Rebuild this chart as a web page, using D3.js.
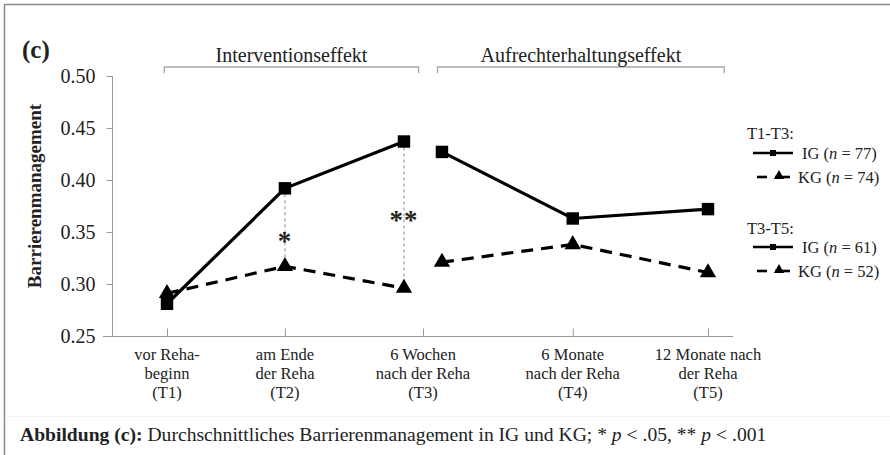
<!DOCTYPE html>
<html>
<head>
<meta charset="utf-8">
<script src="https://cdn.jsdelivr.net/npm/d3@7"></script>
<style>
  html, body { margin: 0; padding: 0; background: #fff; }
  svg { display: block; }
  text { font-family: "Liberation Serif", "Times New Roman", serif; fill: #222; }
</style>
</head>
<body>
<svg id="chart" width="890" height="455"></svg>
<script>
// Messzeitpunkte (Achsenbeschriftung, mehrzeilig) und ihre Lage auf der Zeitachse
const zeitpunktLabels = [
  ["vor Reha-", "beginn", "(T1)"],
  ["am Ende", "der Reha", "(T2)"],
  ["6 Wochen", "nach der Reha", "(T3)"],
  ["6 Monate", "nach der Reha", "(T4)"],
  ["12 Monate nach", "der Reha", "(T5)"]
];
const zeitpunktPos = [0, 0.872, 1.893, 3.0, 4.0];

// Phase 1 (T1-T3) und Phase 2 (T3-T5): Lage der Messpunkte auf der Zeitachse
const posPhase1 = [0, 0.872, 1.752];
const posPhase2 = [2.033, 3.0, 4.0];

// Mittelwerte Barrierenmanagement
const igPhase1 = [0.281, 0.392, 0.437];
const kgPhase1 = [0.291, 0.317, 0.296];
const igPhase2 = [0.427, 0.363, 0.372];
const kgPhase2 = [0.321, 0.338, 0.311];

// y-Achse
const yTicks = [0.25, 0.30, 0.35, 0.40, 0.45, 0.50];

// Signifikanzmarkierungen (Index in Phase 1, Höhe des Sternchens auf der y-Skala)
const signifikanz = [
  { idx: 1, label: "*", hoehe: 0.345 },
  { idx: 2, label: "**", hoehe: 0.365 }
];

// Legende
const legendeGruppen = [
  { titel: "T1-T3:", eintraege: [{ g: "IG", n: 77, typ: "ig" }, { g: "KG", n: 74, typ: "kg" }] },
  { titel: "T3-T5:", eintraege: [{ g: "IG", n: 61, typ: "ig" }, { g: "KG", n: 52, typ: "kg" }] }
];

// Effektklammern über dem Diagramm
const klammern = [
  { label: "Interventionseffekt", von: -0.02, bis: 1.86 },
  { label: "Aufrechterhaltungseffekt", von: 2.0, bis: 4.12 }
];

const svg = d3.select("#chart");

// Rahmen
svg.append("line").attr("x1", 4).attr("x2", 890).attr("y1", 4.5).attr("y2", 4.5)
  .attr("stroke", "#8a8a8a").attr("stroke-width", 1.5);
svg.append("line").attr("x1", 4.5).attr("x2", 4.5).attr("y1", 4).attr("y2", 455)
  .attr("stroke", "#8a8a8a").attr("stroke-width", 1.5);
svg.append("line").attr("x1", 5).attr("x2", 890).attr("y1", 416.5).attr("y2", 416.5)
  .attr("stroke", "#f3f3f3").attr("stroke-width", 1);

const x = d3.scaleLinear().domain([0, 4]).range([167, 708]);
const y = d3.scaleLinear().domain([0.25, 0.50]).range([336, 76]);

// y-Achse
const yAxis = svg.append("g").attr("transform", "translate(112.5,0)")
  .call(d3.axisLeft(y).tickValues(yTicks).tickFormat(d3.format(".2f")).tickSize(6).tickPadding(11));
yAxis.select(".domain").attr("stroke", "#9a9a9a").attr("d", `M0,${y(0.50)}V${y(0.25)}`);
yAxis.selectAll(".tick line").attr("stroke", "#9a9a9a");
yAxis.selectAll(".tick text").attr("font-size", 20).attr("fill", "#333")
  .style("font-family", '"Liberation Serif", serif');

// x-Achse (Ticks nach innen)
const xAxis = svg.append("g").attr("transform", `translate(0,${y(0.25) + 0.5})`)
  .call(d3.axisBottom(x).tickValues(zeitpunktPos).tickSize(-8).tickFormat(""));
xAxis.select(".domain").attr("stroke", "#9a9a9a").attr("d", "M103,0H733");
xAxis.selectAll(".tick line").attr("stroke", "#9a9a9a");

// mehrzeilige Kategorienbeschriftung
const xl = svg.append("g");
zeitpunktLabels.forEach((lines, i) => {
  const t = xl.append("text").attr("text-anchor", "middle").attr("font-size", 16.5).attr("fill", "#333");
  lines.forEach((s, j) => {
    t.append("tspan").attr("x", x(zeitpunktPos[i])).attr("y", 360 + j * 19).text(s);
  });
});

// Achsentitel
svg.append("text")
  .attr("transform", `translate(41,${196})rotate(-90)`)
  .attr("text-anchor", "middle").attr("font-size", 19).attr("font-weight", "bold").attr("fill", "#222")
  .text("Barrierenmanagement");

// Teilabbildungskennung
svg.append("text").attr("x", 22).attr("y", 58).attr("font-size", 25).attr("font-weight", "bold")
  .attr("fill", "#111").text("(c)");

// Klammern mit Beschriftung
klammern.forEach(k => {
  const x0 = x(k.von), x1 = x(k.bis);
  svg.append("path")
    .attr("d", `M${x0},73V67H${x1}V73`)
    .attr("fill", "none").attr("stroke", "#a8a8a8").attr("stroke-width", 1.3);
  svg.append("text").attr("x", (x0 + x1) / 2).attr("y", 61.5).attr("text-anchor", "middle")
    .attr("font-size", 20).attr("fill", "#222").text(k.label);
});

// Signifikanz: gepunktete Verbindungslinien und Sternchen
signifikanz.forEach(s => {
  const xp = x(posPhase1[s.idx]);
  const y0 = y(igPhase1[s.idx]), y1 = y(kgPhase1[s.idx]);
  svg.append("line").attr("x1", xp).attr("x2", xp).attr("y1", y0).attr("y2", y1)
    .attr("stroke", "#b4b4b4").attr("stroke-width", 1.6).attr("stroke-dasharray", "3,3");
  svg.append("text").attr("x", xp).attr("y", y(s.hoehe) + 13).attr("text-anchor", "middle")
    .attr("font-size", 27).attr("font-weight", "bold").attr("fill", "#7a7a7a")
    .attr("letter-spacing", 1).text(s.label);
});

// Linien und Marker
const line = d3.line().x(d => x(d[0])).y(d => y(d[1]));
const reihen = [
  { pos: posPhase1, werte: kgPhase1, typ: "kg" },
  { pos: posPhase2, werte: kgPhase2, typ: "kg" },
  { pos: posPhase1, werte: igPhase1, typ: "ig" },
  { pos: posPhase2, werte: igPhase2, typ: "ig" }
];
const sym = {
  ig: d3.symbol().type(d3.symbolSquare).size(155),
  kg: d3.symbol().type(d3.symbolTriangle).size(115)
};
reihen.forEach(r => {
  const pts = r.pos.map((p, i) => [p, r.werte[i]]);
  svg.append("path").datum(pts).attr("d", line)
    .attr("fill", "none").attr("stroke", "#000").attr("stroke-width", 3.2)
    .attr("stroke-dasharray", r.typ === "kg" ? "12,8" : null);
  svg.append("g").selectAll("path").data(pts).join("path")
    .attr("transform", d => `translate(${x(d[0])},${y(d[1])})`)
    .attr("d", sym[r.typ]).attr("fill", "#000");
});

// Legende
const leg = svg.append("g");
let ly = 139;
legendeGruppen.forEach((grp, gi) => {
  leg.append("text").attr("x", 747).attr("y", ly).attr("font-size", 16.5).attr("fill", "#333").text(grp.titel);
  grp.eintraege.forEach((e, ei) => {
    const cy = ly + 14 + ei * 24 - (gi === 1 ? 1 : 0);
    if (e.typ === "ig") {
      leg.append("line").attr("x1", 753).attr("x2", 793).attr("y1", cy).attr("y2", cy)
        .attr("stroke", "#000").attr("stroke-width", 2.6);
      leg.append("rect").attr("x", 770).attr("y", cy - 3).attr("width", 6).attr("height", 6).attr("fill", "#000");
    } else {
      leg.append("line").attr("x1", 757).attr("x2", 767).attr("y1", cy).attr("y2", cy)
        .attr("stroke", "#000").attr("stroke-width", 2.6);
      leg.append("line").attr("x1", 775).attr("x2", 790).attr("y1", cy).attr("y2", cy)
        .attr("stroke", "#000").attr("stroke-width", 2.6);
      leg.append("path").attr("transform", `translate(779,${cy - 1})`)
        .attr("d", d3.symbol().type(d3.symbolTriangle).size(45)).attr("fill", "#000");
    }
    const t = leg.append("text").attr("x", e.typ === "ig" ? 802 : 798).attr("y", cy + 5.5)
      .attr("font-size", 16.5).attr("fill", "#333");
    t.append("tspan").text(`${e.g} (`);
    t.append("tspan").attr("font-style", "italic").text("n");
    t.append("tspan").text(` = ${e.n})`);
  });
  ly += 95;
});

// Bildunterschrift (leicht in die Breite gezogen)
const cap = svg.append("text").attr("transform", "translate(20,441) scale(1.09,1)")
  .attr("font-size", 18).attr("fill", "#222");
cap.append("tspan").attr("font-weight", "bold").text("Abbildung (c):");
cap.append("tspan").text(" Durchschnittliches Barrierenmanagement in IG und KG; * ");
cap.append("tspan").attr("font-style", "italic").text("p");
cap.append("tspan").text(" < .05, ** ");
cap.append("tspan").attr("font-style", "italic").text("p");
cap.append("tspan").text(" < .001");
</script>
</body>
</html>
